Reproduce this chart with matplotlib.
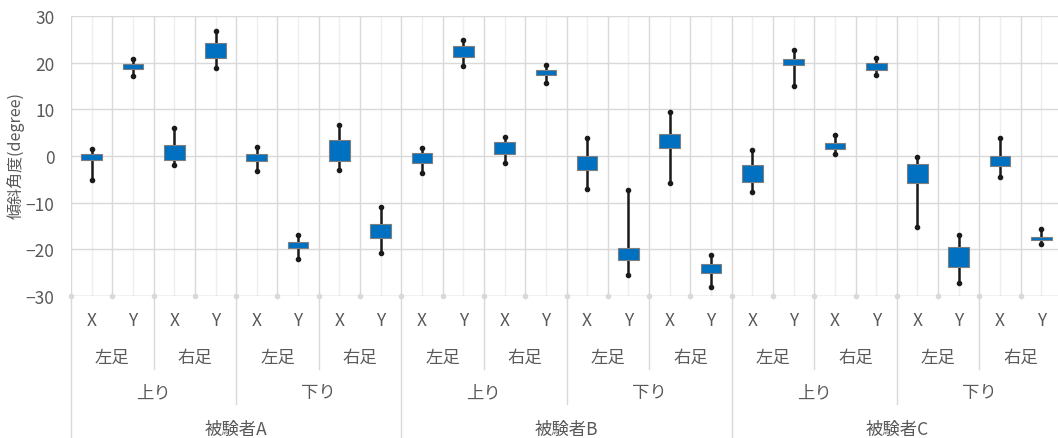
import matplotlib.pyplot as plt
import numpy as np

plt.rcParams['font.family'] = ['Noto Sans CJK JP', 'DejaVu Sans']

# 24 categories: subject / direction / foot / axis
subjects = ['被験者A', '被験者B', '被験者C']
directions = ['上り', '下り']
feet = ['左足', '右足']
axes_xy = ['X', 'Y']

# whisker top, box top, box bottom, whisker bottom (degree)
high = [1.5, 20.8, 5.9, 26.8, 1.9, -16.9, 6.6, -11.0,
        1.7, 24.9, 4.0, 19.5, 3.9, -7.2, 9.4, -21.3,
        1.3, 22.8, 4.5, 20.9, -0.2, -17.0, 3.9, -15.7]
box_top = [0.4, 19.8, 2.4, 24.2, 0.5, -18.5, 3.5, -14.5,
           0.6, 23.6, 2.9, 18.5, -0.1, -19.8, 4.7, -23.1,
           -1.9, 20.8, 2.8, 19.9, -1.7, -19.5, 0.1, -17.4]
box_bot = [-0.9, 18.7, -0.9, 20.9, -1.1, -19.7, -1.1, -17.5,
           -1.4, 21.3, 0.5, 17.3, -2.9, -22.2, 1.8, -25.1,
           -5.5, 19.5, 1.5, 18.4, -5.7, -23.7, -2.1, -18.0]
low = [-5.1, 17.1, -1.9, 18.8, -3.2, -22.0, -3.0, -20.8,
       -3.7, 19.3, -1.4, 15.6, -7.1, -25.6, -5.7, -28.1,
       -7.7, 15.0, 0.4, 17.3, -15.2, -27.3, -4.4, -18.8]

text_c = '#595959'
grid_c = '#D9D9D9'
fs = 12.5

fig = plt.figure(figsize=(10.58, 4.39), dpi=100)
ax = fig.add_axes([71 / 1058, (439 - 297) / 439, 991 / 1058, 280 / 439])

n = len(high)
x = np.arange(n) + 0.5

ax.vlines(x, low, high, color='#1a1a1a', lw=1.8, zorder=3)
ax.plot(x, high, 'o', color='#1a1a1a', ms=3, zorder=4)
ax.plot(x, low, 'o', color='#1a1a1a', ms=3, zorder=4)
ax.bar(x, np.array(box_top) - np.array(box_bot), bottom=box_bot, width=0.5,
       color='#0070C0', edgecolor='#7F7F7F', lw=0.8, zorder=5)

ax.set_xlim(0, n)
ax.set_ylim(-30, 30)
ax.set_yticks(range(-30, 31, 10))
ax.set_xticks(range(0, n + 1))
ax.set_xticks(x, minor=True)
ax.tick_params(axis='y', length=0, pad=12, labelsize=fs, labelcolor=text_c)
ax.tick_params(axis='x', which='both', length=0, labelbottom=False)
ax.grid(axis='y', color=grid_c, lw=1)
ax.grid(axis='x', which='major', color=grid_c, lw=1)
ax.grid(axis='x', which='minor', color='#EEEEEE', lw=1)
ax.set_axisbelow(True)
for s in ax.spines.values():
    s.set_visible(False)
ax.axhline(-30, color=grid_c, lw=1, zorder=1)
ax.plot(range(0, n + 1), [-30] * (n + 1), 'o', color=grid_c, ms=3,
        clip_on=False, zorder=1)

fig.text(16 / 1058, (439 - 156) / 439, '傾斜角度(degree)', rotation=90,
         ha='center', va='center', fontsize=11.5, color=text_c)

# multi-level category labels
tr = ax.get_xaxis_transform()
row_y = [-(321 - 297) / 280, -(358 - 297) / 280, -(393 - 297) / 280, -(430 - 297) / 280]
line_ends = {2: -(370 - 297) / 280, 4: -(405 - 297) / 280, 8: -(445 - 297) / 280}

i = 0
for s in subjects:
    for d in directions:
        for f in feet:
            for a in axes_xy:
                ax.text(i + 0.5, row_y[0], a, transform=tr, ha='center',
                        va='center', fontsize=fs, color=text_c)
                i += 1
            ax.text(i - 1, row_y[1], f, transform=tr, ha='center',
                    va='center', fontsize=fs, color=text_c)
        ax.text(i - 2, row_y[2], d, transform=tr, ha='center',
                va='center', fontsize=fs, color=text_c)
    ax.text(i - 4, row_y[3], s, transform=tr, ha='center',
            va='center', fontsize=fs, color=text_c)

for b in range(0, n + 1, 2):
    if b % 8 == 0:
        end = line_ends[8]
    elif b % 4 == 0:
        end = line_ends[4]
    else:
        end = line_ends[2]
    ax.plot([b, b], [0, end], transform=tr, color=grid_c, lw=1, clip_on=False)

fig.savefig('out.png', dpi=100)
